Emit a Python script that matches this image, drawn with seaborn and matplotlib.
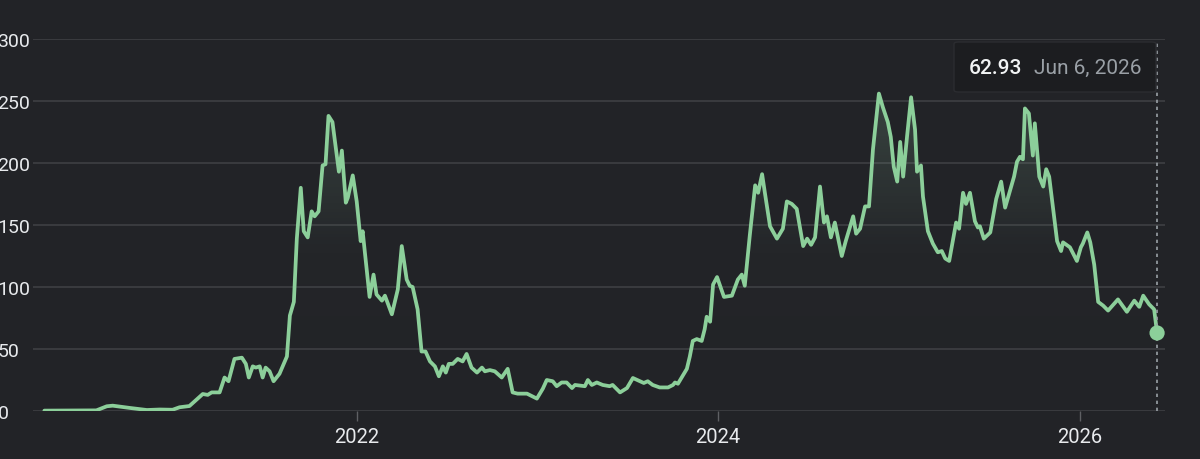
import numpy as np
import pandas as pd
import seaborn as sns
import matplotlib.pyplot as plt
import matplotlib.dates as mdates
from matplotlib.colors import LinearSegmentedColormap
from matplotlib.patches import FancyBboxPatch

# weekly-ish closing values
dates = [
    "2020-04-10", "2020-07-24", "2020-08-14", "2020-08-26", "2020-09-29", "2020-11-03",
    "2020-11-29", "2020-12-25", "2021-01-08", "2021-01-28", "2021-02-24", "2021-03-06",
    "2021-03-14", "2021-03-30", "2021-04-09", "2021-04-17", "2021-04-29", "2021-05-14",
    "2021-05-22", "2021-05-28", "2021-06-05", "2021-06-11", "2021-06-19", "2021-06-25",
    "2021-07-01", "2021-07-09", "2021-07-17", "2021-07-29", "2021-08-13", "2021-08-19",
    "2021-08-27", "2021-09-02", "2021-09-10", "2021-09-16", "2021-09-24", "2021-10-02",
    "2021-10-08", "2021-10-16", "2021-10-24", "2021-10-30", "2021-11-05", "2021-11-13",
    "2021-11-26", "2021-12-02", "2021-12-10", "2021-12-14", "2021-12-24", "2022-01-01",
    "2022-01-09", "2022-01-13", "2022-01-27", "2022-02-04", "2022-02-10", "2022-02-21",
    "2022-02-27", "2022-03-13", "2022-03-25", "2022-04-02", "2022-04-12", "2022-04-18",
    "2022-04-24", "2022-05-04", "2022-05-12", "2022-05-20", "2022-05-29", "2022-06-08",
    "2022-06-16", "2022-06-24", "2022-06-30", "2022-07-06", "2022-07-14", "2022-07-24",
    "2022-08-03", "2022-08-11", "2022-08-21", "2022-09-01", "2022-09-11", "2022-09-17",
    "2022-09-27", "2022-10-07", "2022-10-21", "2022-11-02", "2022-11-12", "2022-11-22",
    "2022-12-11", "2022-12-31", "2023-01-12", "2023-01-20", "2023-02-01", "2023-02-09",
    "2023-02-19", "2023-03-01", "2023-03-12", "2023-03-18", "2023-04-07", "2023-04-13",
    "2023-04-21", "2023-05-01", "2023-05-13", "2023-05-27", "2023-06-02", "2023-06-17",
    "2023-07-01", "2023-07-13", "2023-07-27", "2023-08-04", "2023-08-12", "2023-08-22",
    "2023-09-05", "2023-09-22", "2023-10-02", "2023-10-06", "2023-10-12", "2023-10-30",
    "2023-11-05", "2023-11-11", "2023-11-19", "2023-11-29", "2023-12-05", "2023-12-09",
    "2023-12-16", "2023-12-22", "2023-12-30", "2024-01-13", "2024-01-29", "2024-02-10",
    "2024-02-18", "2024-02-24", "2024-03-05", "2024-03-16", "2024-03-22", "2024-03-30",
    "2024-04-05", "2024-04-15", "2024-04-29", "2024-05-11", "2024-05-19", "2024-05-29",
    "2024-06-08", "2024-06-21", "2024-06-29", "2024-07-07", "2024-07-15", "2024-07-25",
    "2024-08-02", "2024-08-08", "2024-08-16", "2024-08-24", "2024-09-07", "2024-09-15",
    "2024-09-30", "2024-10-06", "2024-10-14", "2024-10-24", "2024-11-01", "2024-11-09",
    "2024-11-21", "2024-11-29", "2024-12-09", "2024-12-15", "2024-12-21", "2024-12-28",
    "2025-01-03", "2025-01-09", "2025-01-17", "2025-01-25", "2025-02-02", "2025-02-06",
    "2025-02-14", "2025-02-18", "2025-02-28", "2025-03-10", "2025-03-20", "2025-03-28",
    "2025-04-04", "2025-04-12", "2025-04-26", "2025-05-02", "2025-05-10", "2025-05-16",
    "2025-05-24", "2025-06-03", "2025-06-09", "2025-06-13", "2025-06-21", "2025-07-04",
    "2025-07-16", "2025-07-26", "2025-08-03", "2025-08-13", "2025-08-21", "2025-08-27",
    "2025-09-02", "2025-09-08", "2025-09-12", "2025-09-20", "2025-09-28", "2025-10-02",
    "2025-10-11", "2025-10-19", "2025-10-25", "2025-10-31", "2025-11-16", "2025-11-24",
    "2025-11-28", "2025-12-12", "2025-12-26", "2026-01-03", "2026-01-07", "2026-01-16",
    "2026-01-22", "2026-01-30", "2026-02-07", "2026-02-17", "2026-02-27", "2026-03-19",
    "2026-04-06", "2026-04-21", "2026-05-01", "2026-05-09", "2026-05-21", "2026-05-31",
    "2026-06-06",
]
prices = [
    0.3, 0.5, 3.8, 4.3, 2.5, 0.8,
    1.2, 1.0, 3.0, 4.0, 13.7, 13.0,
    15.0, 15.0, 27.0, 24.0, 42.0, 43.0,
    38.0, 27.0, 36.0, 35.0, 36.0, 27.0,
    35.0, 32.0, 24.0, 30.0, 44.0, 77.0,
    88.0, 139.0, 180.0, 145.0, 140.0, 161.0,
    157.0, 161.0, 198.0, 199.0, 238.0, 233.0,
    193.0, 210.0, 168.0, 172.0, 190.0, 169.0,
    137.0, 145.0, 92.0, 110.0, 94.0, 89.0,
    93.0, 78.0, 98.0, 133.0, 106.0, 101.0,
    100.0, 82.0, 48.0, 48.0, 40.0, 36.0,
    28.0, 36.0, 31.0, 38.0, 38.0, 42.0,
    40.0, 46.0, 35.0, 31.0, 35.0, 32.0,
    33.0, 32.0, 27.0, 34.0, 15.0, 14.0,
    14.0, 10.0, 18.0, 25.0, 24.0, 20.0,
    23.0, 23.0, 18.5, 21.0, 20.0, 25.0,
    21.0, 23.0, 21.0, 20.0, 21.0, 15.0,
    18.5, 26.6, 24.0, 22.6, 24.0, 21.0,
    19.0, 19.0, 21.0, 23.0, 22.0, 34.0,
    44.0, 56.5, 58.0, 56.5, 66.0, 76.0,
    72.0, 102.0, 108.0, 92.0, 93.0, 106.0,
    110.0, 101.0, 141.0, 182.0, 176.0, 191.0,
    175.0, 149.0, 139.0, 147.0, 169.0, 167.0,
    163.0, 133.0, 139.0, 134.0, 140.0, 181.0,
    152.0, 157.0, 140.0, 152.0, 125.0, 137.0,
    157.0, 143.0, 147.0, 165.0, 165.0, 211.0,
    256.0, 245.0, 233.0, 221.0, 197.0, 185.0,
    217.0, 189.0, 222.0, 253.0, 227.0, 193.0,
    198.0, 173.0, 145.0, 135.0, 128.0, 129.0,
    123.0, 121.0, 152.0, 147.0, 176.0, 167.0,
    176.0, 153.0, 148.0, 149.0, 139.0, 144.0,
    171.0, 185.0, 164.0, 178.0, 189.0, 201.0,
    205.0, 203.0, 244.0, 240.0, 206.0, 232.0,
    189.0, 181.0, 195.0, 189.0, 137.0, 129.0,
    136.0, 132.0, 121.0, 132.0, 135.0, 144.0,
    136.0, 118.0, 88.0, 85.0, 81.0, 90.0,
    80.0, 89.0, 84.0, 93.0, 86.0, 82.0,
    62.93,
]
y_ticks = [0, 50, 100, 150, 200, 250, 300]
x_ticks = ["2022-01-01", "2024-01-01", "2026-01-01"]
x_tick_labels = ["2022", "2024", "2026"]
tooltip_value = "62.93"
tooltip_date = "Jun 6, 2026"

BG = "#222327"
GREEN = "#8ccf9a"
GRID = "#414246"
TEXT = "#e8eaed"

df = pd.DataFrame({"date": pd.to_datetime(dates), "price": prices})

sns.set_theme(style="dark", rc={
    "figure.facecolor": BG,
    "axes.facecolor": BG,
    "savefig.facecolor": BG,
})
plt.rcParams["font.family"] = ["Roboto", "DejaVu Sans"]

fig = plt.figure(figsize=(12, 4.6), dpi=100)
ax = fig.add_axes([33 / 1200, 48 / 460, 1132 / 1200, 372 / 460])

sns.lineplot(data=df, x="date", y="price", color=GREEN, linewidth=2.7, ax=ax, zorder=3)

# soft gradient under the line
poly = ax.fill_between(df["date"], df["price"], 0, color="none", linewidth=0)
x0, x1 = mdates.date2num(df["date"].iloc[0]), mdates.date2num(df["date"].iloc[-1])
cmap = LinearSegmentedColormap.from_list(
    "fade", [(0.55, 0.75, 0.62, 0.0), (0.55, 0.75, 0.62, 0.02), (0.55, 0.75, 0.62, 0.22)]
)
grad = np.linspace(0, 1, 256).reshape(-1, 1)
img = ax.imshow(grad, extent=[x0, x1, 0, 260], origin="lower", aspect="auto",
                cmap=cmap, zorder=2, interpolation="bilinear")
img.set_clip_path(poly.get_paths()[0], transform=ax.transData)

# last point marker and hover line
last = df.iloc[-1]
ax.axvline(last["date"], ymin=0, ymax=0.99, color="#9aa0a6", linestyle=(0, (2, 2.2)),
           linewidth=1.2, zorder=4)
ax.scatter([last["date"]], [last["price"]], s=120, color=GREEN, zorder=5, clip_on=False,
           edgecolor="none")

ax.set_xlim(pd.Timestamp("2020-03-18"), pd.Timestamp("2026-06-22"))
ax.set_ylim(0, 300)
ax.set_yticks(y_ticks)
ax.set_yticklabels([str(v) for v in y_ticks])
ax.set_xticks(pd.to_datetime(x_ticks))
ax.set_xticklabels(x_tick_labels)
ax.grid(axis="y", color=GRID, linewidth=1.1)
ax.grid(axis="x", visible=False)
for s in ax.spines.values():
    s.set_visible(False)
ax.set_xlabel("")
ax.set_ylabel("")
ax.tick_params(axis="y", length=0, pad=25.5, labelsize=14, labelcolor=TEXT)
ax.tick_params(axis="x", length=7.5, width=1, color="#5f6064", pad=4,
               labelsize=14.5, labelcolor=TEXT, bottom=True)
plt.setp(ax.get_yticklabels(), ha="left")

# tooltip
box = FancyBboxPatch((954 / 1200, 367 / 460), 202 / 1200, 50 / 460,
                     boxstyle="round,pad=0,rounding_size=0.004",
                     transform=fig.transFigure, facecolor="#1c1d20",
                     edgecolor="#2b2c30", linewidth=1, zorder=10)
fig.patches.append(box)
fig.text(969 / 1200, 392 / 460, tooltip_value, color="#f1f3f4", fontsize=15,
         fontweight="medium", va="center", ha="left", zorder=11)
fig.text(1034 / 1200, 392 / 460, tooltip_date, color="#9aa0a6", fontsize=15,
         va="center", ha="left", zorder=11)

fig.savefig("out.png", dpi=100, facecolor=BG)
